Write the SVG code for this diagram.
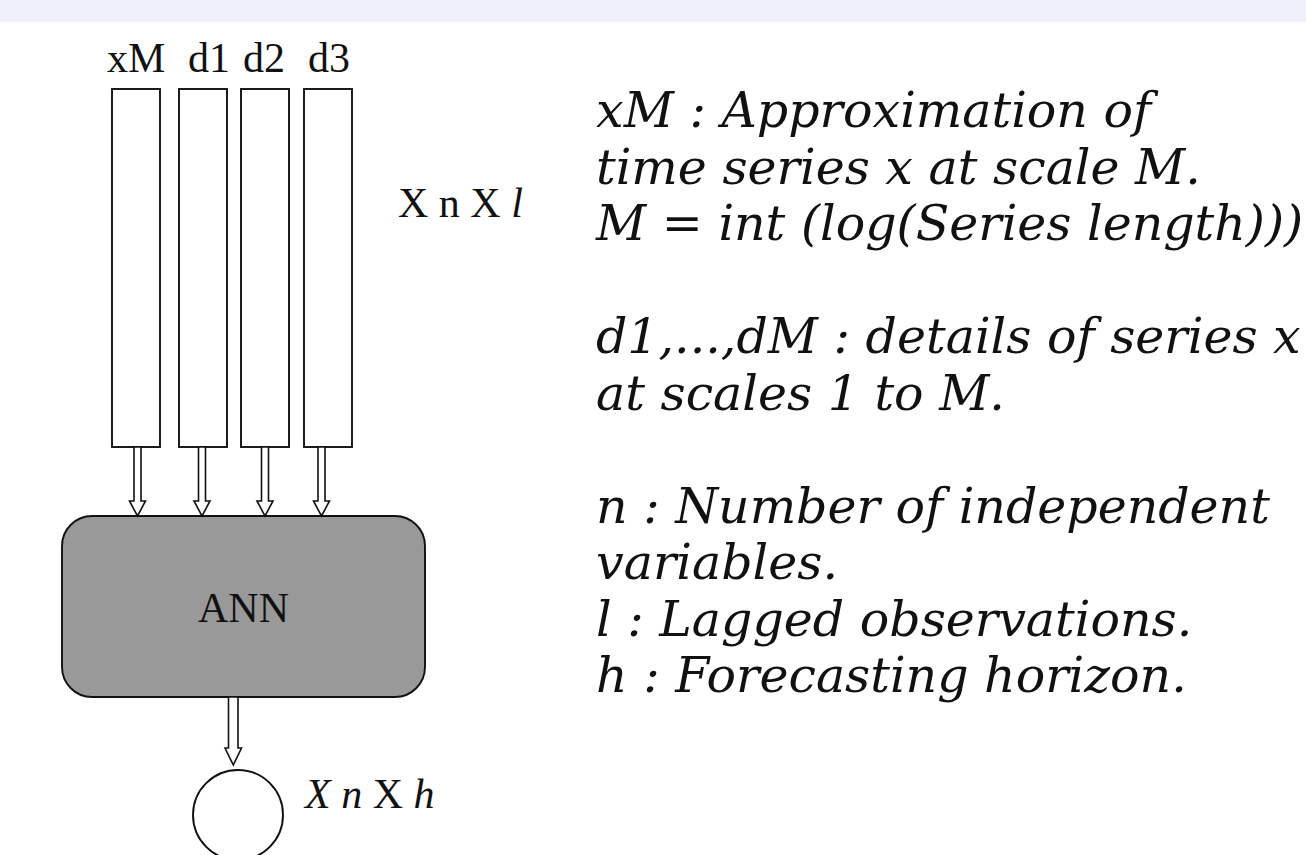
<svg xmlns="http://www.w3.org/2000/svg" width="1306" height="855" viewBox="0 0 1306 855">
<style>
.lbl{font-family:"Liberation Serif","Times New Roman",serif;font-size:42px;fill:#111}
.it{font-style:italic}
.note{font-family:"DejaVu Serif",serif;font-style:italic;font-size:49px;fill:#111}
.col{fill:#fff;stroke:#111;stroke-width:1.9}
.arr{fill:#fff;stroke:#111;stroke-width:1.6;stroke-linejoin:miter}
</style>
<rect x="0" y="0" width="1306" height="855" fill="#fff"/>
<rect x="0" y="0" width="1306" height="22" fill="#eff0fb"/>

<g id="col-xM"><rect class="col" x="112" y="89" width="48" height="358"/><text class="lbl" x="107" y="72">xM</text></g>
<g id="col-d1"><rect class="col" x="179" y="89" width="48" height="358"/><text class="lbl" x="188" y="72">d1</text></g>
<g id="col-d2"><rect class="col" x="241" y="89" width="48" height="358"/><text class="lbl" x="243" y="72">d2</text></g>
<g id="col-d3"><rect class="col" x="304" y="89" width="48" height="358"/><text class="lbl" x="308" y="72">d3</text></g>

<g id="dim-in"><text class="lbl" x="398" y="217">X n X <tspan class="it">l</tspan></text></g>

<g id="ann"><rect x="62" y="516" width="363" height="181" rx="30" ry="30" fill="#999" stroke="#111" stroke-width="1.9"/><text class="lbl" x="243.5" y="622" text-anchor="middle">ANN</text></g>

<g id="out"><circle cx="238" cy="815" r="45" fill="#fff" stroke="#111" stroke-width="1.9"/><text class="lbl" x="305" y="808"><tspan class="it">X n</tspan> X <tspan class="it">h</tspan></text></g>

<g id="connectors">
<polygon class="arr" points="134,447 141,447 141,501 145.5,501 137.5,516 129.5,501 134,501"/>
<polygon class="arr" points="198.5,447 205.5,447 205.5,501 210,501 202,516 194,501 198.5,501"/>
<polygon class="arr" points="261.5,447 268.5,447 268.5,501 273,501 265,516 257,501 261.5,501"/>
<polygon class="arr" points="318,447 325,447 325,501 329.5,501 321.5,516 313.5,501 318,501"/>
<polygon class="arr" points="228.5,697 238,697 238,748 241.5,748 233.3,765 225,748 228.5,748"/>
</g>

<g id="legend">
<text class="note" x="596" y="127">xM : Approximation of</text>
<text class="note" x="596" y="183.5">time series x at scale M.</text>
<text class="note" x="596" y="240">M = int (log(Series length)))</text>
<text class="note" x="596" y="353">d1,...,dM : details of series x</text>
<text class="note" x="596" y="409.5">at scales 1 to M.</text>
<text class="note" x="596" y="522.5">n : Number of independent</text>
<text class="note" x="596" y="579">variables.</text>
<text class="note" x="596" y="635.5">l : Lagged observations.</text>
<text class="note" x="596" y="692">h : Forecasting horizon.</text>
</g>
</svg>
